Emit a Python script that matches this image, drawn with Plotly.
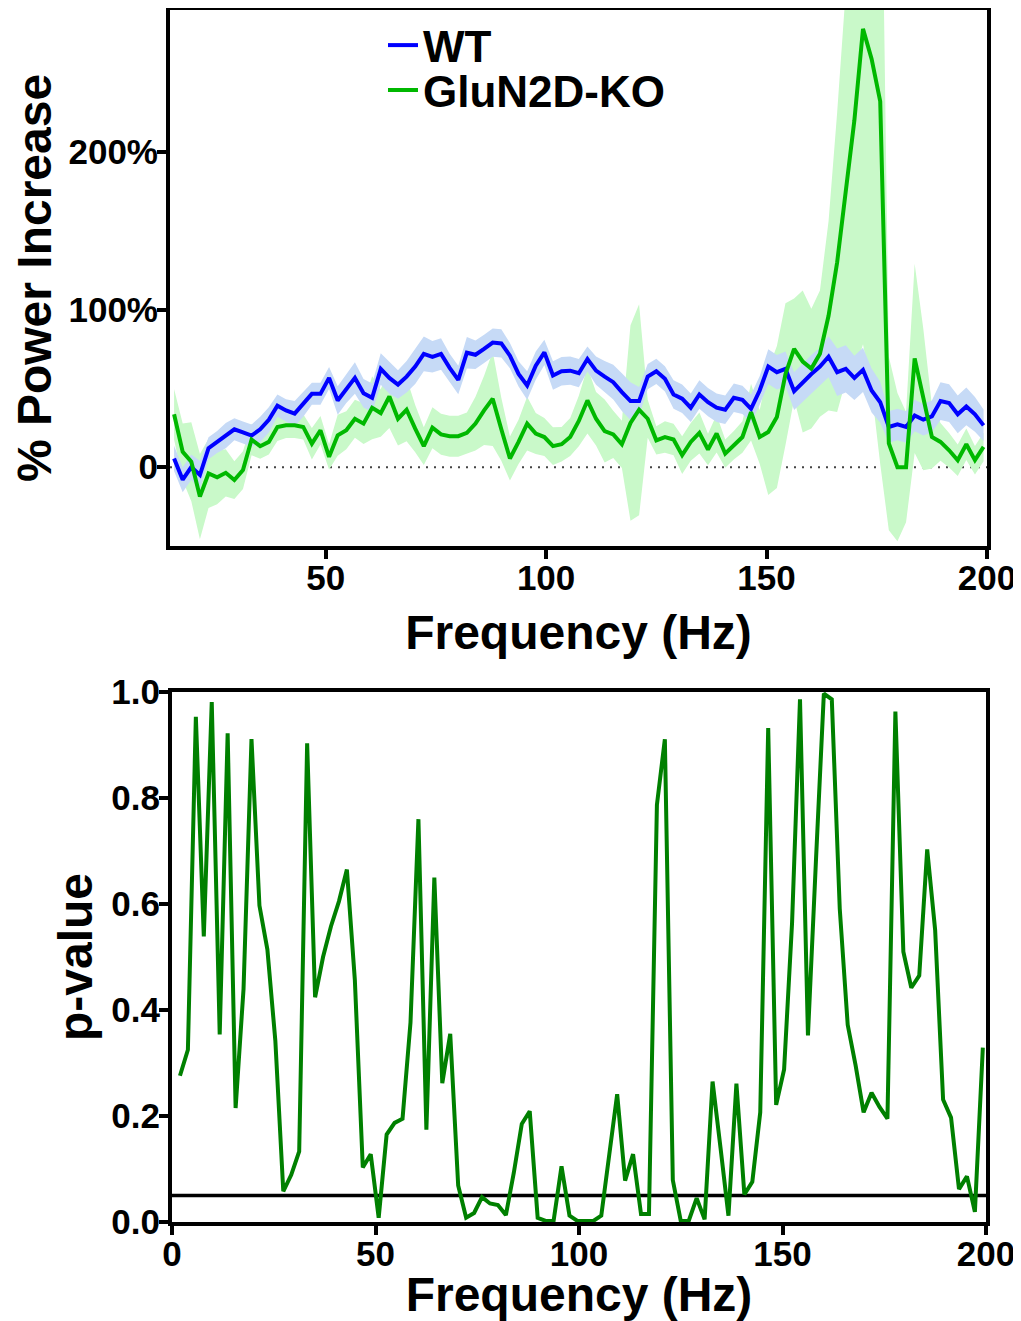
"""
Espectro de potencia (WT vs GluN2D-KO) e p-valores por frequência.
"""

import plotly.graph_objects as go
from plotly.subplots import make_subplots

FONT = "Liberation Sans, Arial, sans-serif"

# bins de frequência (resolução de 1000/512 Hz)
FREQ_STEP = 1000 / 512
freq_power = [round(k * FREQ_STEP, 3) for k in range(8, 103)]
freq_p = [round(k * FREQ_STEP, 3) for k in range(1, 103)]

# % de aumento de potência - WT (média e SEM)
wt_mean = [5.5, -8, 0, -5, 12, 16, 20, 24, 22, 20, 24, 30, 39, 36, 34, 40, 46.5, 46.5, 56.6,
           42.3, 49.7, 56.6, 46.9, 44, 62.3, 56.6, 52.4, 57.4, 63.8, 71.8, 70, 71.8, 63, 55.3,
           72.6, 71.3, 75, 79, 78.5, 70.7, 59.1, 51.8, 64.4, 72.8, 58.1, 60.8, 61.2, 59.6, 68.6,
           61.2, 57.4, 53.9, 47.6, 41.9, 41.9, 57.4, 60.8, 56, 46.1, 43.4, 37.7, 46.1, 41.2, 37.7,
           36.4, 44, 42.7, 37, 48.6, 63.8, 60.2, 62.3, 48.2, 53.9, 59.1, 63.8, 70, 60.2, 62.3,
           56.6, 61.7, 48.6, 41.2, 25.5, 27.1, 25.5, 32.8, 30.1, 32.2, 41.9, 40.6, 33.5, 38.5,
           33.5, 26.5]
wt_sem = [8, 8, 8, 9,
          7, 7, 8, 7, 7, 7, 8, 8, 7, 7, 8, 8, 7, 7, 7,
          9, 9, 10, 9, 9, 10, 10, 9, 10, 11, 11, 10, 10, 9, 9, 10, 9, 9, 9, 9,
          8, 8, 9, 9, 8, 9, 9, 9, 9, 8, 9, 10, 11, 12, 12, 9, 8, 8, 8,
          9, 9, 9, 9, 9, 9, 9, 9, 9, 9, 9,
          11, 11, 11, 12, 12, 12, 12, 13,
          15, 15, 14, 14, 14, 13,
          10, 10, 10, 10, 10, 10,
          12, 12, 12, 12, 11, 10]

# % de aumento de potência - GluN2D-KO (média e SEM)
ko_mean = [33.5, 9.7, 3.4, -18.7, -4, -6.5, -3.6, -8.2, -1.9, 17.5, 13.3, 16, 25.5, 26.5, 26.5,
           25.5, 14.9, 23.4, 6.5, 20.2, 23.4, 30.7, 27.6, 37.7, 34.3, 44.8, 30.7, 36.4, 24.4,
           13.3, 25, 20.8, 19.6, 19.6, 21.7, 27.6, 36, 43.4, 24, 5.5, 16, 27.6, 21.3, 19.1, 13.3,
           14.5, 19.1, 29.3, 42.3, 30.7, 22.9, 20.8, 14.5, 28, 36.4, 30.7, 17, 19.1, 17.5, 7.6,
           16, 21.7, 11.2, 21.3, 8.6, 13.9, 19.1, 34.9, 19.1, 22.3, 31.8, 59, 75, 67, 62.5, 72,
           96, 130, 175, 220, 278, 259, 232, 15, 0, 0, 69, 43, 19.1, 16, 10.7, 4.4, 14.5, 4.4,
           12.8]
ko_sem = [16, 18, 25, 27, 22, 17, 15, 12, 12, 10, 8, 8, 9, 8, 8, 8, 10, 9, 8,
          13, 12, 12, 13, 20, 15, 20, 17, 20, 15, 12, 13, 13, 13, 13, 13, 17, 22, 30, 20,
          14, 14, 17, 13, 12, 12, 11, 12, 16, 21, 17, 20, 15, 15, 62, 67, 12, 9, 10,
          10, 12, 12, 13, 10, 12, 9, 9, 10, 18, 17, 40, 45, 45, 32, 45, 38, 40, 60,
          95, 120, 160, 200, 210, 230, 55, 47, 35, 60, 45, 20, 12, 11, 10, 10, 9, 9]

# p-valores por frequência
p_value = [0.276, 0.325, 0.953, 0.539, 0.981, 0.354, 0.922, 0.215, 0.44, 0.911, 0.597, 0.514,
           0.342, 0.058, 0.089, 0.133, 0.903, 0.424, 0.5, 0.558, 0.605, 0.665, 0.457, 0.103,
           0.128, 0.008, 0.165, 0.187, 0.195, 0.376, 0.76, 0.174, 0.65, 0.262, 0.355, 0.069,
           0.008, 0.017, 0.047, 0.035, 0.032, 0.013, 0.093, 0.185, 0.209, 0.008, 0.002, 0.002,
           0.105, 0.012, 0.002, 0.002, 0.002, 0.012, 0.126, 0.241, 0.078, 0.128, 0.015, 0.015,
           0.787, 0.911, 0.079, 0.002, 0.002, 0.045, 0.005, 0.265, 0.14, 0.012, 0.261, 0.052,
           0.076, 0.207, 0.932, 0.221, 0.288, 0.564, 0.986, 0.352, 0.68, 0.997, 0.986, 0.591,
           0.372, 0.295, 0.207, 0.244, 0.217, 0.195, 0.963, 0.51, 0.442, 0.465, 0.703, 0.551,
           0.231, 0.197, 0.062, 0.086, 0.019, 0.329]
p_threshold = 0.05


def banda(x, media, sem):
    """Polígono média +/- SEM."""
    sup = [m + s for m, s in zip(media, sem)]
    inf = [m - s for m, s in zip(media, sem)]
    return x + x[::-1], sup + inf[::-1]


fig = make_subplots(rows=2, cols=1)

# bandas de SEM (KO por baixo, WT por cima)
bx, by = banda(freq_power, ko_mean, ko_sem)
fig.add_trace(go.Scatter(x=bx, y=by, fill='toself', fillcolor='#c9f9c9',
                         line=dict(width=0), mode='lines', showlegend=False,
                         hoverinfo='skip'), row=1, col=1)
bx, by = banda(freq_power, wt_mean, wt_sem)
fig.add_trace(go.Scatter(x=bx, y=by, fill='toself', fillcolor='#c6daf6',
                         line=dict(width=0), mode='lines', showlegend=False,
                         hoverinfo='skip'), row=1, col=1)

fig.add_trace(go.Scatter(x=freq_power, y=wt_mean, mode='lines', name='WT',
                         legend='legend',
                         line=dict(color='#0000ff', width=4)), row=1, col=1)
fig.add_trace(go.Scatter(x=freq_power, y=ko_mean, mode='lines', name='GluN2D-KO',
                         legend='legend2',
                         line=dict(color='#00b800', width=4)), row=1, col=1)

fig.add_trace(go.Scatter(x=freq_p, y=p_value, mode='lines', showlegend=False,
                         line=dict(color='#008000', width=4)), row=2, col=1)

# linha pontilhada em 0 e limiar de p
fig.add_shape(type='line', xref='x', yref='y', x0=14.7, x1=200, y0=0, y1=0,
              line=dict(color='#444444', width=2, dash='2px,6px'), layer='below')
fig.add_shape(type='line', xref='x2', yref='y2', x0=0, x1=200, y0=p_threshold, y1=p_threshold,
              line=dict(color='black', width=3.5), layer='below')

eixo = dict(showline=True, linewidth=4, linecolor='black', mirror=True,
            ticks='outside', ticklen=9, tickwidth=4, tickcolor='black',
            showgrid=False, zeroline=False, automargin=False,
            tickfont=dict(size=35, family=FONT, weight='bold', color='black'))
titulo = dict(size=48, family=FONT, weight='bold', color='black')
fonte_legenda = dict(size=44, family=FONT, weight='bold', color='black')

fig.update_xaxes(eixo, ticklabelstandoff=-11)
fig.update_yaxes(eixo, ticklabelstandoff=-8)

fig.update_layout(
    xaxis=dict(domain=[0, 1], range=[14.7, 200], tickvals=[50, 100, 150, 200],
               title=dict(text='Frequency (Hz)', font=titulo, standoff=20)),
    yaxis=dict(domain=[0.5578, 1], range=[-50, 290], tickvals=[0, 100, 200],
               ticktext=['0', '100%', '200%'],
               title=dict(text='% Power Increase', font=titulo, standoff=14)),
    xaxis2=dict(domain=[0.00245, 0.9988], range=[0, 200], tickvals=[0, 50, 100, 150, 200],
                title=dict(text='Frequency (Hz)', font=titulo, standoff=8)),
    yaxis2=dict(domain=[0, 0.4373], range=[0, 1],
                tickvals=[0, 0.2, 0.4, 0.6, 0.8, 1.0],
                ticktext=['0.0', '0.2', '0.4', '0.6', '0.8', '1.0'],
                title=dict(text='p-value', font=titulo, standoff=5)),
    legend=dict(x=0.2607, y=1, xanchor='left', yanchor='top',
                bgcolor='rgba(0,0,0,0)', font=fonte_legenda),
    legend2=dict(x=0.2607, y=0.963, xanchor='left', yanchor='top',
                 bgcolor='rgba(0,0,0,0)', font=fonte_legenda),
    # a página tem 8px de margem no body: a figura é reduzida para caber
    width=1013, height=1313,
    margin=dict(l=162, r=34, t=2, b=99),
    plot_bgcolor='white', paper_bgcolor='white',
    font=dict(family=FONT, color='black'),
)

fig.write_html("out.html")
